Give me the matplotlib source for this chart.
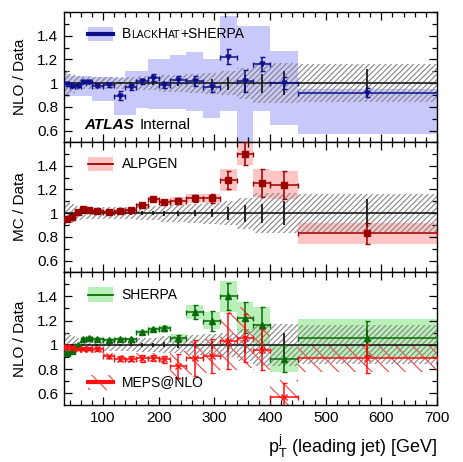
import numpy as np
import matplotlib
matplotlib.use('Agg')
import matplotlib.pyplot as plt
from matplotlib.patches import Rectangle
from matplotlib.lines import Line2D
from matplotlib.offsetbox import TextArea, HPacker, AnnotationBbox
from matplotlib.ticker import MultipleLocator

plt.rcParams['font.family'] = ['Liberation Sans', 'DejaVu Sans']
plt.rcParams['hatch.linewidth'] = 0.8

# bin edges in leading jet pT [GeV]
edges = np.array([30, 40, 50, 60, 70, 80, 100, 120, 140, 160, 180, 200, 220,
                  250, 280, 310, 340, 370, 400, 450, 700], float)

# data uncertainties (stat = black bars, syst = grey hatched band)
data_stat = [0.005, 0.005, 0.005, 0.005, 0.005, 0.006, 0.008, 0.01, 0.012, 0.015,
             0.018, 0.02, 0.022, 0.027, 0.035, 0.055, 0.07, 0.08, 0.1, 0.12]
data_syst = [0.10, 0.08, 0.06, 0.05, 0.05, 0.05, 0.05, 0.05, 0.05, 0.06,
             0.06, 0.07, 0.07, 0.08, 0.09, 0.10, 0.13, 0.17, 0.17, 0.16]

# BlackHat+SHERPA / data
bh_val = [0.99, 0.975, 0.975, 1.01, 1.01, 0.98, 0.985, 0.895, 0.965, 1.015,
          1.045, 0.985, 1.03, 1.02, 0.965, 1.225, 1.02, 1.165, 1.005, 0.92]
bh_err = [0.01, 0.01, 0.01, 0.01, 0.01, 0.015, 0.015, 0.04, 0.025, 0.02,
          0.03, 0.025, 0.03, 0.045, 0.04, 0.06, 0.09, 0.06, 0.05, 0.04]
bh_hi = [1.08, 1.06, 1.06, 1.06, 1.06, 1.05, 1.05, 1.04, 1.10, 1.10,
         1.20, 1.20, 1.24, 1.26, 1.20, 1.57, 1.48, 1.48, 1.27, 0.95]
bh_lo = [0.88, 0.89, 0.89, 0.89, 0.89, 0.85, 0.85, 0.73, 0.73, 0.79,
         0.78, 0.78, 0.78, 0.77, 0.71, 0.77, 0.50, 0.77, 0.65, 0.57]

# ALPGEN / data
alp_val = [0.948, 0.967, 1.008, 1.035, 1.027, 1.02, 1.013, 1.02, 1.027, 1.068,
           1.117, 1.095, 1.103, 1.125, 1.125, 1.28, 1.503, 1.253, 1.239, 0.83]
alp_err = [0.015, 0.012, 0.012, 0.012, 0.012, 0.01, 0.01, 0.012, 0.012, 0.015,
           0.015, 0.018, 0.022, 0.03, 0.04, 0.075, 0.1, 0.12, 0.12, 0.09]
alp_box = [0.02, 0.02, 0.02, 0.02, 0.02, 0.015, 0.015, 0.015, 0.018, 0.02,
           0.022, 0.025, 0.03, 0.035, 0.04, 0.09, 0.1, 0.12, 0.12, 0.09]

# SHERPA / data
sh_val = [0.933, 0.95, 0.995, 1.05, 1.055, 1.05, 1.04, 1.05, 1.045, 1.105,
          1.127, 1.136, 1.053, 1.27, 1.197, 1.40, 1.225, 1.16, 0.886, 1.055]
sh_err = [0.015, 0.012, 0.01, 0.01, 0.01, 0.01, 0.01, 0.01, 0.01, 0.012,
          0.015, 0.02, 0.03, 0.06, 0.08, 0.11, 0.13, 0.15, 0.11, 0.14]
sh_box = [0.02, 0.02, 0.015, 0.015, 0.015, 0.015, 0.015, 0.015, 0.015, 0.018,
          0.02, 0.025, 0.035, 0.06, 0.07, 0.13, 0.13, 0.15, 0.11, 0.16]

# MEPS@NLO / data
me_val = [0.983, 0.975, 0.97, 0.97, 0.97, 0.965, 0.905, 0.886, 0.886, 0.89,
          0.89, 0.88, 0.828, 0.89, 0.905, 1.03, 1.058, 0.96, 0.57, 0.89]
me_err = [0.02, 0.015, 0.015, 0.015, 0.015, 0.015, 0.015, 0.02, 0.02, 0.03,
          0.025, 0.03, 0.1, 0.15, 0.14, 0.23, 0.2, 0.17, 0.12, 0.12]
me_band = [0.03, 0.03, 0.03, 0.03, 0.03, 0.03, 0.03, 0.03, 0.035, 0.04,
           0.04, 0.04, 0.12, 0.14, 0.14, 0.24, 0.25, 0.17, 0.14, 0.11]

centers = 0.5 * (edges[:-1] + edges[1:])
halfw = 0.5 * np.diff(edges)
widths = np.diff(edges)

GREY = '#858585'


def data_reference(ax):
    syst = np.array(data_syst)
    ax.bar(edges[:-1], 2 * syst, bottom=1 - syst, width=widths, align='edge',
           facecolor='none', edgecolor=GREY, hatch='//////', linewidth=0, zorder=2)
    ax.axhline(1.0, color='#1a1a1a', lw=1.2, zorder=3)
    ax.errorbar(centers, np.ones(len(centers)), yerr=data_stat, fmt='none',
                ecolor='#1a1a1a', elinewidth=1.3, zorder=3)


def legend_entry(ax, y, label, face, line, lw, hatch=None, hatchcolor=None):
    if hatch:
        ax.add_patch(Rectangle((0.065, y - 0.055), 0.067, 0.11, transform=ax.transAxes,
                               facecolor='none', edgecolor=hatchcolor, hatch=hatch,
                               linewidth=0, clip_on=False, zorder=5))
    else:
        ax.add_patch(Rectangle((0.065, y - 0.055), 0.067, 0.11, transform=ax.transAxes,
                               facecolor=face, edgecolor='none', clip_on=False, zorder=5))
    ax.add_line(Line2D([0.065, 0.132], [y, y], transform=ax.transAxes, color=line,
                       lw=lw, zorder=6))
    if label is not None:
        ax.text(0.155, y, label, transform=ax.transAxes, fontsize=10, va='center', zorder=6)


fig = plt.figure(figsize=(4.64, 4.62), dpi=100)
left, width = 64 / 464, 373 / 464
ax1 = fig.add_axes([left, 1 - 142 / 462, width, 130 / 462])
ax2 = fig.add_axes([left, 1 - 272 / 462, width, 130 / 462])
ax3 = fig.add_axes([left, 1 - 405 / 462, width, 133 / 462])

# top: BlackHat+SHERPA
ax1.bar(edges[:-1], np.array(bh_hi) - np.array(bh_lo), bottom=bh_lo, width=widths,
        align='edge', color='#c8c8fa', linewidth=0, zorder=1)
data_reference(ax1)
ax1.errorbar(centers, bh_val, xerr=halfw, yerr=bh_err, fmt='v', color='#10108a',
             ms=3.5, elinewidth=1.1, capsize=1.8, zorder=4)
legend_entry(ax1, 0.83, None, '#c8c8fa', '#10108a', 3)
parts = [('B', 10), ('LACK', 7.5), ('H', 10), ('AT', 7.5), ('+SHERPA', 10)]
box = HPacker(children=[TextArea(s, textprops=dict(fontsize=fs)) for s, fs in parts],
              align='baseline', pad=0, sep=0)
ax1.add_artist(AnnotationBbox(box, (0.155, 0.83), xycoords='axes fraction',
                              box_alignment=(0, 0.5), frameon=False, zorder=6))
atlas = HPacker(children=[TextArea('ATLAS', textprops=dict(fontsize=11, fontweight='bold',
                                                            fontstyle='italic')),
                          TextArea('Internal', textprops=dict(fontsize=11))],
                align='baseline', pad=0, sep=4)
ax1.add_artist(AnnotationBbox(atlas, (0.055, 0.13), xycoords='axes fraction',
                              box_alignment=(0, 0.5), frameon=False, zorder=6))

# middle: ALPGEN
alp_box_a = np.array(alp_box)
ax2.bar(edges[:-1], 2 * alp_box_a, bottom=np.array(alp_val) - alp_box_a, width=widths,
        align='edge', color='#ffc4c4', linewidth=0, zorder=1)
data_reference(ax2)
ax2.errorbar(centers, alp_val, xerr=halfw, yerr=alp_err, fmt='s', color='#9a0000',
             ms=5, elinewidth=1.1, capsize=1.8, zorder=4)
legend_entry(ax2, 0.83, 'ALPGEN', '#ffc4c4', '#9a0000', 1.3)

# bottom: SHERPA and MEPS@NLO
sh_box_a = np.array(sh_box)
ax3.bar(edges[:-1], 2 * sh_box_a, bottom=np.array(sh_val) - sh_box_a, width=widths,
        align='edge', color='#b8f0b8', linewidth=0, zorder=1)
me_band_a = np.array(me_band)
ax3.bar(edges[:-1], 2 * me_band_a, bottom=np.array(me_val) - me_band_a, width=widths,
        align='edge', facecolor='none', edgecolor='#ff4040', hatch='\\\\', linewidth=0,
        zorder=2)
data_reference(ax3)
ax3.errorbar(centers, sh_val, xerr=halfw, yerr=sh_err, fmt='^', color='#0a6a0a',
             ms=4, elinewidth=1.1, capsize=1.8, zorder=4)
ax3.errorbar(centers, me_val, xerr=halfw, yerr=me_err, fmt='x', color='#ff1010',
             ms=4, mew=1, elinewidth=1.1, capsize=1.8, zorder=4)
legend_entry(ax3, 0.83, 'SHERPA', '#b8f0b8', '#0a6a0a', 1.3)
legend_entry(ax3, 0.17, 'MEPS@NLO', None, '#ff1010', 3, hatch='\\\\', hatchcolor='#ff4040')

for ax, lab in [(ax1, 'NLO / Data'), (ax2, 'MC / Data'), (ax3, 'NLO / Data')]:
    ax.set_xlim(30, 700)
    ax.set_ylim(0.505, 1.6)
    ax.set_yticks([0.6, 0.8, 1.0, 1.2, 1.4])
    ax.set_yticklabels(['0.6', '0.8', '1', '1.2', '1.4'])
    ax.yaxis.set_minor_locator(MultipleLocator(0.1))
    ax.xaxis.set_major_locator(MultipleLocator(100))
    ax.xaxis.set_minor_locator(MultipleLocator(20))
    ax.tick_params(which='both', direction='in', top=True, right=True, labelsize=11, pad=4)
    ax.tick_params(which='major', length=6, width=0.9)
    ax.tick_params(which='minor', length=3.5, width=0.9)
    ax.set_ylabel(lab, fontsize=11)
    ax.yaxis.set_label_coords(-0.1, 0.5)
    for sp in ax.spines.values():
        sp.set_linewidth(1.0)
    if ax is not ax3:
        ax.tick_params(labelbottom=False)

ax3.set_xlabel(r'$\mathregular{p_T^j}$ (leading jet) [GeV]', fontsize=13, loc='right',
               labelpad=6)

fig.savefig('out.png', dpi=100)
